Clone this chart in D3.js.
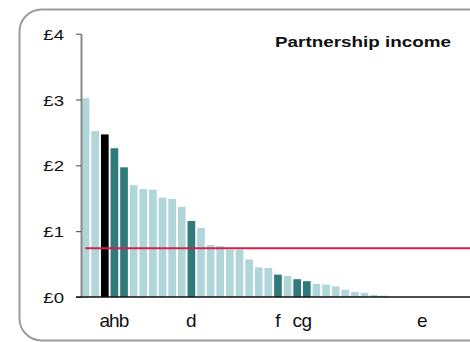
<!DOCTYPE html>
<html><head><meta charset="utf-8">
<script src="https://cdn.jsdelivr.net/npm/d3@7"></script>
<style>html,body{margin:0;padding:0;background:#fff;overflow:hidden}svg{display:block}</style>
</head><body><svg id="c" width="470" height="342"></svg>
<script>
const values = [3.02, 2.52, 2.47, 2.26, 1.97, 1.70, 1.64, 1.63, 1.51, 1.49,
                1.37, 1.155, 1.05, 0.79, 0.775, 0.72, 0.72, 0.57, 0.45, 0.44,
                0.34, 0.32, 0.27, 0.24, 0.20, 0.19, 0.16, 0.11, 0.076, 0.06,
                0.03, 0.02, 0, 0, 0, 0, 0, 0, 0, 0];
const labels = ["", "", "a", "h", "b", "", "", "", "", "",
                "", "d", "", "", "", "", "", "", "", "",
                "f", "", "c", "g", "", "", "", "", "", "",
                "", "", "", "", "", "e", "", "", "", ""];
const blackLabels = ["a"];
const darkLabels = ["h", "b", "d", "f", "c", "g"];
const average = 0.74;
const yTicks = [0, 1, 2, 3, 4];
const yTickLabels = ["£0", "£1", "£2", "£3", "£4"];
const title = "Partnership income";

const W = 470, H = 342;
const svg = d3.select("#c");

// rounded frame
svg.append("rect").attr("x", 19.5).attr("y", 9.5).attr("width", 490).attr("height", 331)
  .attr("rx", 22).attr("fill", "none").attr("stroke", "#9c9c9c").attr("stroke-width", 2);

const step = 9.62;
const x0 = 81.7;
const idx = values.map((d, i) => i);
const x = d3.scaleBand().domain(idx)
  .range([x0, x0 + step * (values.length - 0.2)])
  .paddingInner(0.2).paddingOuter(0);
const y = d3.scaleLinear().domain([0, 4]).range([297, 33.7]);

const colorOf = l => blackLabels.includes(l) ? "#000000" : (darkLabels.includes(l) ? "#2f7a7a" : "#b0d6da");

svg.append("g").selectAll("rect").data(values).join("rect")
  .attr("x", (d, i) => x(i)).attr("width", x.bandwidth())
  .attr("y", d => y(d)).attr("height", d => y(0) - y(d))
  .attr("fill", (d, i) => colorOf(labels[i]));

// y axis
const ya = svg.append("g").attr("transform", `translate(${81},0)`)
  .call(d3.axisLeft(y).tickValues(yTicks).tickFormat((d, i) => yTickLabels[i])
    .tickSizeInner(5).tickSizeOuter(0).tickPadding(12));
ya.select(".domain").attr("stroke", "#8a8a8a").attr("stroke-width", 2);
ya.selectAll(".tick line").attr("stroke", "#444").attr("stroke-width", 1);
ya.selectAll(".tick text")
  .attr("x", 0).attr("dy", null).attr("y", 5.5)
  .attr("transform", "translate(-17,0) scale(1.2,1)")
  .attr("font-family", "Liberation Sans, Arial, sans-serif").attr("font-size", 15.5)
  .attr("fill", "#111");

// x axis line
svg.append("line").attr("x1", 76).attr("x2", W).attr("y1", y(0)).attr("y2", y(0))
  .attr("stroke", "#111").attr("stroke-width", 1.5);

// x labels
svg.append("g").selectAll("text").data(labels).join("text")
  .attr("x", (d, i) => x(i) + x.bandwidth() / 2).attr("y", 327)
  .attr("text-anchor", "middle")
  .attr("font-family", "Liberation Sans, Arial, sans-serif").attr("font-size", 19)
  .attr("fill", "#111").text(d => d);

// average line
svg.append("line").attr("x1", 85.3).attr("x2", W).attr("y1", y(average)).attr("y2", y(average))
  .attr("stroke", "#d1224a").attr("stroke-width", 2);

// title
svg.append("text").attr("transform", "translate(275,47) scale(1.33,1)")
  .attr("font-family", "Liberation Sans, Arial, sans-serif").attr("font-size", 14.2)
  .attr("font-weight", "bold").attr("fill", "#111").text(title);
</script></body></html>
